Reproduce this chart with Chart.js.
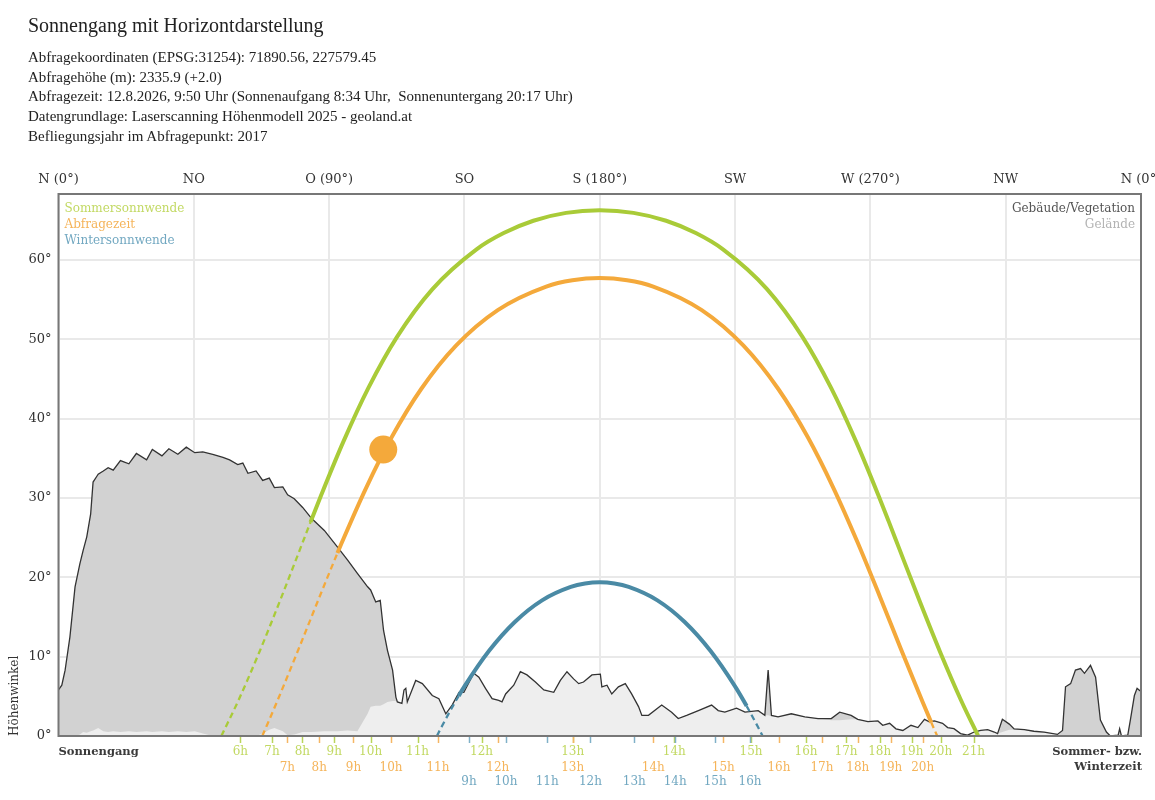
<!DOCTYPE html>
<html lang="de">
<head>
<meta charset="utf-8">
<title>Sonnengang mit Horizontdarstellung</title>
<script src="https://cdn.jsdelivr.net/npm/chart.js@4.4.1/dist/chart.umd.min.js"></script>
<style>
  html, body { margin: 0; padding: 0; background: #fff; }
  body { width: 1155px; height: 800px; position: relative; overflow: hidden; }
  #chart { position: absolute; left: 0; top: 0; width: 1155px; height: 800px; }
  #header { position: absolute; left: 28px; top: 13px; z-index: 2; font-family: 'Liberation Serif', serif; color: #222; }
  #header .title { font-size: 20px; line-height: 24px; height: 24px; margin-bottom: 11px; }
  #header .info { font-size: 15px; line-height: 19.7px; white-space: pre; }
</style>
</head>
<body>
<div id="header">
  <div class="title">Sonnengang mit Horizontdarstellung</div>
  <div class="info">Abfragekoordinaten (EPSG:31254): 71890.56, 227579.45</div>
  <div class="info">Abfragehöhe (m): 2335.9 (+2.0)</div>
  <div class="info">Abfragezeit: 12.8.2026, 9:50 Uhr (Sonnenaufgang 8:34 Uhr,  Sonnenuntergang 20:17 Uhr)</div>
  <div class="info">Datengrundlage: Laserscanning Höhenmodell 2025 - geoland.at</div>
  <div class="info">Befliegungsjahr im Abfragepunkt: 2017</div>
</div>
<canvas id="chart" width="1155" height="800"></canvas>
<script>
// axes
const compassTicks = [0, 45, 90, 135, 180, 225, 270, 315, 360];
const compassLabels = ['N (0°)', 'NO', 'O (90°)', 'SO', 'S (180°)', 'SW', 'W (270°)', 'NW', 'N (0°)'];
const altitudeTicks = [0, 10, 20, 30, 40, 50, 60];

// horizon: buildings/vegetation and bare terrain, read at the same azimuths
const horizonAz = [
  0, 1.1, 2.2, 3.8, 5.5, 7.1, 8.2, 9.4, 10.7, 11.5,
  12.7, 13.2, 14.9, 16.5, 18.2, 20.6, 23.4, 25.9, 29.3, 31.2,
  34.4, 36.7, 39.7, 42.5, 45.3, 48.0, 51.3, 54.7, 56.9, 59.6,
  61.3, 63.0, 65.7, 67.9, 70.1, 71.8, 74.6, 76.2, 78.4, 81.2,
  84.2, 88.4, 92.8, 96.1, 99.4, 102.8, 103.8, 105.5, 107.0, 108.1,
  109.4, 111.1, 112.2, 112.7, 114.2, 114.9, 115.5, 116.0, 118.8, 121.0,
  124.3, 126.5, 128.8, 130.9, 133.2, 134.8, 138.1, 139.8, 142.0, 144.2,
  146.4, 147.5, 148.7, 151.4, 153.6, 155.8, 158.6, 161.4, 164.7, 166.9,
  169.1, 171.3, 173.0, 174.6, 177.4, 180.2, 180.7, 182.4, 184.0, 186.2,
  188.5, 190.6, 192.9, 194.0, 196.2, 200.6, 203.9, 206.1, 208.9, 212.8,
  217.2, 219.4, 221.6, 225.5, 228.3, 232.7, 234.9, 236.0, 237.1, 239.3,
  243.7, 248.2, 252.6, 257.0, 259.8, 263.6, 265.8, 269.2, 272.5, 274.1,
  276.4, 278.5, 280.8, 283.5, 285.8, 288.0, 289.6, 291.3, 294.0, 295.7,
  297.8, 300.0, 302.3, 304.5, 306.7, 309.0, 311.2, 312.3, 313.9, 316.2,
  317.8, 321.2, 324.4, 327.8, 332.2, 333.9, 334.9, 336.6, 338.2, 339.9,
  341.2, 343.2, 344.9, 346.5, 348.5, 349.8, 352.4, 352.9, 353.5, 355.6,
  356.5, 357.8, 358.7, 360
];
const horizonAlt = [
  5.8, 6.4, 8.3, 12.5, 18.8, 21.7, 23.4, 25.1, 28.0, 32.0,
  32.7, 33.0, 33.4, 33.8, 33.5, 34.7, 34.3, 35.6, 34.8, 36.1,
  35.3, 36.2, 35.5, 36.4, 35.7, 35.8, 35.5, 35.1, 34.8, 34.2,
  34.4, 33.1, 33.4, 32.2, 32.5, 31.3, 31.4, 30.4, 29.9, 28.8,
  27.4, 25.9, 23.8, 22.2, 20.5, 18.8, 18.4, 16.9, 17.1, 13.3,
  10.8, 8.3, 4.9, 4.3, 4.1, 5.8, 6.0, 4.3, 7.0, 6.6,
  5.1, 4.7, 2.8, 3.9, 5.5, 5.5, 7.9, 7.4, 6.0, 4.7,
  4.5, 4.3, 5.3, 6.4, 8.1, 7.7, 6.8, 5.8, 5.5, 7.0,
  8.1, 7.2, 6.6, 6.8, 7.7, 7.8, 6.2, 6.4, 5.3, 6.2,
  6.6, 5.3, 3.7, 2.6, 2.6, 3.9, 3.0, 2.2, 2.6, 3.2,
  3.9, 3.2, 3.0, 3.5, 3.0, 3.2, 2.6, 8.3, 2.6, 2.4,
  2.8, 2.4, 2.2, 2.2, 3.0, 2.6, 2.1, 1.8, 1.9, 1.35,
  1.6, 0.9, 0.7, 1.35, 1.06, 2.1, 1.8, 1.9, 1.6, 1.06,
  0.93, 0.3, 0.1, 0.5, 0.7, 0.8, 0.5, 0.3, 2.1, 1.5,
  0.9, 0.8, 0.6, 0.5, 0.2, 0.7, 6.2, 6.6, 8.3, 8.5,
  7.9, 8.9, 7.4, 2.0, 0.5, 0, 0.1, 0.9, 0, 0.1,
  2.1, 5.1, 6.0, 5.6
];
const terrainAlt = [
  0, 0, 0, 0, 0, 0.2, 0.5, 0.4, 0.6, 0.7,
  0.9, 1.0, 0.6, 0.5, 0.6, 0.5, 0.6, 0.5, 0.6, 0.5,
  0.6, 0.5, 0.6, 0.5, 0.6, 0.3, 0, 0, 0, 0,
  0, 0, 0, 0.3, 0.8, 1.0, 0.6, 0.1, 0.2, 0.5,
  0.5, 0.6, 0.6, 0.7, 0.6, 2.8, 3.7, 3.8, 3.8, 4.0,
  4.3, 4.4, 4.4, 4.3, 4.1, 5.8, 6.0, 4.3, 7.0, 6.6,
  5.1, 4.7, 2.8, 3.9, 5.5, 5.5, 7.9, 7.4, 6.0, 4.7,
  4.5, 4.3, 5.3, 6.4, 8.1, 7.7, 6.8, 5.8, 5.5, 7.0,
  8.1, 7.2, 6.6, 6.8, 7.7, 7.8, 6.2, 6.4, 5.3, 6.2,
  6.6, 5.3, 3.7, 2.6, 2.6, 3.9, 3.0, 2.2, 2.6, 3.2,
  3.9, 3.2, 3.0, 3.5, 3.0, 3.2, 2.6, 2.6, 2.5, 2.4,
  2.8, 2.4, 2.2, 2.0, 2.0, 2.1, 2.1, 1.8, 1.9, 1.35,
  1.6, 0.9, 0.7, 1.35, 1.06, 2.1, 1.8, 1.9, 1.6, 1.06,
  0.93, 0.3, 0.1, 0.5, 0.7, 0.8, 0.5, 0.3, 0.5, 0.8,
  0.8, 0.8, 0.5, 0.4, 0.2, 0.1, 0, 0, 0, 0,
  0, 0, 0, 0, 0, 0, 0, 0, 0, 0,
  0, 0, 0, 0
];

// sun paths (azimuth, altitude)
const summerAz = [54.16, 59.86, 66.81, 73.59, 80.37, 83.81, 87.34, 94.78, 103.02, 112.59, 124.30, 139.13, 148.05, 157.92, 168.8,
  180, 191.2, 202.08, 211.95, 220.87, 235.70, 247.41, 256.98, 265.22, 272.66, 276.19, 279.63, 286.41, 293.19, 300.14, 305.84];
const summerAlt = [0, 4.51, 10.59, 16.97, 23.58, 26.95, 30.34, 37.13, 43.84, 50.30, 56.29, 61.36, 63.38, 64.93, 65.92,
  66.24, 65.92, 64.93, 63.38, 61.36, 56.29, 50.30, 43.84, 37.13, 30.34, 26.95, 23.58, 16.97, 10.59, 4.51, 0];
const queryAz = [67.77, 72.62, 79.75, 86.89, 92.76, 94.27, 102.12, 110.79, 120.67, 132.27, 146.08, 162.2, 170.9,
  180, 189.1, 197.8, 213.92, 227.73, 239.33, 249.21, 257.88, 265.73, 273.11, 280.25, 287.38, 290.26, 292.23];
const queryAlt = [0, 4.28, 10.87, 17.61, 23.05, 24.41, 31.12, 37.64, 43.76, 49.22, 53.67, 56.64, 57.43,
  57.7, 57.43, 56.64, 53.67, 49.22, 43.76, 37.64, 31.12, 24.41, 17.61, 10.87, 4.28, 1.71, 0];
const winterAz = [125.84, 127.37, 131.14, 133.06, 135.0, 143.13, 151.75, 160.81, 170.36, 175.1,
  180, 184.9, 189.64, 199.19, 208.25, 216.87, 225.0, 228.86, 232.63, 234.16];
const winterAlt = [0, 1.13, 3.77, 5.03, 6.25, 10.70, 14.36, 17.09, 18.78, 19.21,
  19.36, 19.21, 18.78, 17.09, 14.36, 10.70, 6.25, 3.77, 1.13, 0];

// sun at query time
const sunNowAz = [108.0];
const sunNowAlt = [36.1];

// full hours along each path
const summerHourLabels = ['6h', '7h', '8h', '9h', '10h', '11h', '12h', '13h', '14h', '15h', '16h', '17h', '18h', '19h', '20h', '21h'];
const summerHourAz = [60.5, 71.0, 81.1, 91.7, 103.8, 119.4, 140.7, 171.0, 204.8, 230.3, 248.6, 261.9, 273.1, 283.8, 293.4, 304.3];
const queryHourLabels = ['7h', '8h', '9h', '10h', '11h', '12h', '13h', '14h', '15h', '16h', '17h', '18h', '19h', '20h'];
const queryHourAz = [76.1, 86.7, 98.1, 110.6, 126.2, 146.1, 171.0, 197.8, 221.1, 239.6, 253.9, 265.8, 276.8, 287.4];
const winterHourLabels = ['9h', '10h', '11h', '12h', '13h', '14h', '15h', '16h'];
const winterHourAz = [136.5, 148.8, 162.5, 176.9, 191.5, 205.1, 218.4, 230.0];

const GREEN = '#a9cb38', ORANGE = '#f4a93b', BLUE = '#4a8aa5';
const GREEN_TXT = '#c2d963', ORANGE_TXT = '#f5b45a', BLUE_TXT = '#72a8c1';

Chart.defaults.font.family = "'DejaVu Serif', serif";
Chart.defaults.color = '#333';

const pts = (xs, ys) => xs.map((x, i) => ({ x: x, y: ys[i] }));

function horizonAt(az) {
  for (let i = 1; i < horizonAz.length; i++) {
    if (az <= horizonAz[i]) {
      const t = (az - horizonAz[i - 1]) / (horizonAz[i] - horizonAz[i - 1]);
      return horizonAlt[i - 1] + t * (horizonAlt[i] - horizonAlt[i - 1]);
    }
  }
  return horizonAlt[horizonAlt.length - 1];
}

// sun behind the horizon -> thin dashed line
function dashIfHidden(azs, alts) {
  const hidden = (ctx) => {
    const i = ctx.p0DataIndex, j = ctx.p1DataIndex;
    return (alts[i] + alts[j]) / 2 < horizonAt((azs[i] + azs[j]) / 2);
  };
  return {
    borderDash: ctx => hidden(ctx) ? [6, 4] : [],
    borderWidth: ctx => hidden(ctx) ? 2.3 : 4
  };
}

function sunPath(label, azs, alts, color, order) {
  return {
    label: label,
    data: pts(azs, alts),
    borderColor: color,
    borderWidth: 4,
    pointRadius: 0,
    fill: false,
    cubicInterpolationMode: 'monotone',
    segment: dashIfHidden(azs, alts),
    order: order
  };
}

const hourRows = [
  { labels: summerHourLabels, az: summerHourAz, color: GREEN_TXT, tick: '#b9d45a', dy: 16 },
  { labels: queryHourLabels, az: queryHourAz, color: ORANGE_TXT, tick: '#f5b765', dy: 31.5 },
  { labels: winterHourLabels, az: winterHourAz, color: BLUE_TXT, tick: '#80b1c8', dy: 46 }
];

const decorPlugin = {
  id: 'decor',
  afterDatasetsDraw(chart) {
    const { ctx, chartArea: a } = chart;
    const x = chart.scales.x;
    ctx.save();
    ctx.strokeStyle = '#777';
    ctx.lineWidth = 2;
    ctx.strokeRect(a.left, a.top, a.right - a.left, a.bottom - a.top);

    ctx.font = "12px 'DejaVu Serif'";
    ctx.textBaseline = 'middle';
    ctx.textAlign = 'left';
    [['Sommersonnwende', GREEN_TXT], ['Abfragezeit', ORANGE_TXT], ['Wintersonnwende', BLUE_TXT]].forEach((l, i) => {
      ctx.fillStyle = l[1];
      ctx.fillText(l[0], a.left + 6, a.top + 14.5 + i * 16.3);
    });
    ctx.textAlign = 'right';
    [['Gebäude/Vegetation', '#555'], ['Gelände', '#b3b3b3']].forEach((l, i) => {
      ctx.fillStyle = l[1];
      ctx.fillText(l[0], a.right - 6, a.top + 14.5 + i * 16.3);
    });

    ctx.lineWidth = 1.5;
    hourRows.forEach(row => {
      ctx.strokeStyle = row.tick;
      row.az.forEach(az => {
        const px = Math.round(x.getPixelForValue(az)) + 0.5;
        ctx.beginPath();
        ctx.moveTo(px, a.bottom + 1);
        ctx.lineTo(px, a.bottom + 7);
        ctx.stroke();
      });
    });
    ctx.textAlign = 'center';
    hourRows.forEach(row => {
      ctx.fillStyle = row.color;
      row.az.forEach((az, i) => {
        ctx.fillText(row.labels[i], x.getPixelForValue(az), a.bottom + row.dy);
      });
    });

    ctx.fillStyle = '#3a3a3a';
    ctx.font = "bold 11.5px 'DejaVu Serif'";
    ctx.textAlign = 'left';
    ctx.fillText('Sonnengang', a.left, a.bottom + 16);
    ctx.textAlign = 'right';
    ctx.fillText('Sommer- bzw.', a.right + 1, a.bottom + 16);
    ctx.fillText('Winterzeit', a.right + 1, a.bottom + 31.5);
    ctx.restore();
  }
};

new Chart(document.getElementById('chart'), {
  type: 'line',
  data: {
    datasets: [
      {
        label: 'Sonne',
        data: pts(sunNowAz, sunNowAlt),
        showLine: false,
        pointRadius: 14,
        pointHoverRadius: 14,
        pointBackgroundColor: ORANGE,
        pointBorderWidth: 0,
        order: 0
      },
      sunPath('Sommersonnwende', summerAz, summerAlt, GREEN, 1),
      sunPath('Abfragezeit', queryAz, queryAlt, ORANGE, 2),
      sunPath('Wintersonnwende', winterAz, winterAlt, BLUE, 3),
      {
        label: 'Gebäude/Vegetation',
        data: pts(horizonAz, horizonAlt),
        borderColor: '#333',
        borderWidth: 1.3,
        pointRadius: 0,
        tension: 0,
        fill: false,
        order: 4
      },
      {
        label: 'Gelände',
        data: pts(horizonAz, terrainAlt),
        borderColor: 'rgba(0,0,0,0)',
        borderWidth: 0,
        pointRadius: 0,
        tension: 0,
        fill: 'origin',
        backgroundColor: '#eeeeee',
        order: 5
      },
      {
        label: 'Gebäude/Vegetation Fläche',
        data: pts(horizonAz, horizonAlt),
        borderColor: 'rgba(0,0,0,0)',
        borderWidth: 0,
        pointRadius: 0,
        tension: 0,
        fill: 'origin',
        backgroundColor: '#d2d2d2',
        order: 6
      }
    ]
  },
  options: {
    responsive: false,
    animation: false,
    events: [],
    layout: { padding: { top: 165, right: 11, bottom: 64, left: 0 } },
    plugins: {
      legend: { display: false },
      tooltip: { enabled: false }
    },
    scales: {
      x: {
        type: 'linear',
        position: 'top',
        min: 0,
        max: 360,
        afterBuildTicks: s => { s.ticks = compassTicks.map(v => ({ value: v })); },
        afterFit: s => { s.height = 29; s.paddingLeft = 0; s.paddingRight = 0; },
        ticks: {
          callback: (v, i) => compassLabels[i],
          padding: 7,
          maxRotation: 0,
          autoSkip: false,
          font: { size: 13 },
          color: '#333'
        },
        grid: { color: '#e9e9e9', lineWidth: 2, drawTicks: false },
        border: { display: false }
      },
      y: {
        type: 'linear',
        min: 0,
        max: 68.3,
        afterBuildTicks: s => { s.ticks = altitudeTicks.map(v => ({ value: v })); },
        afterFit: s => { s.width = 58.5; },
        ticks: {
          callback: v => v + '°',
          padding: 7,
          font: { size: 13 },
          color: '#333'
        },
        grid: { color: '#e9e9e9', lineWidth: 2, drawTicks: false },
        border: { display: false },
        title: {
          display: true,
          text: 'Höhenwinkel',
          align: 'start',
          color: '#333',
          font: { size: 12 },
          padding: { top: 8, bottom: 0 }
        }
      }
    }
  },
  plugins: [decorPlugin]
});
</script>
</body>
</html>
